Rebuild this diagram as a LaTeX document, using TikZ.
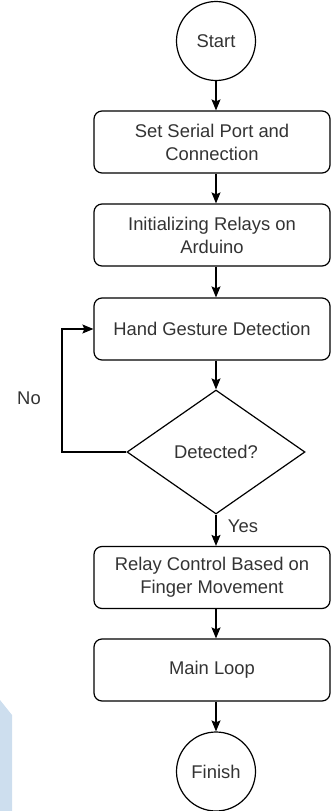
\documentclass[tikz,border=0pt]{standalone}
\usepackage{fontspec}
\setmainfont{Liberation Sans}
\usetikzlibrary{shapes.geometric,arrows.meta}
\definecolor{txt}{HTML}{333333}
\definecolor{wm}{RGB}{205,222,238}
\tikzset{
  every node/.style={font=\fontsize{18.4}{23}\selectfont, text=txt},
  procbox/.style={draw=black, line width=1.2pt, rounded corners=8pt, minimum width=236pt, minimum height=62pt, align=center, inner sep=0pt},
  term/.style={draw=black, line width=1.2pt, circle, minimum size=79pt, inner sep=0pt},
  decis/.style={draw=black, line width=1.2pt, diamond, minimum width=178pt, minimum height=124pt, inner sep=0pt},
  flow/.style={draw=black, line width=1.2pt, -{Stealth[length=11pt,width=9pt,inset=2pt]}},
  lbl/.style={inner sep=0pt}
}
\begin{document}
\begin{tikzpicture}[x=1pt,y=-1pt]
\useasboundingbox (0,0) rectangle (331,811);
\fill[wm] (0,700) -- (12,715) -- (12,811) -- (0,811) -- cycle;
\node[term] (start) at (216,41) {Start};
\node[procbox] (b1) at (212,142) {Set Serial Port and\\Connection};
\node[procbox] (b2) at (212,235) {Initializing Relays on\\Arduino};
\node[procbox] (b3) at (212,329) {Hand Gesture Detection};
\node[decis] (dec) at (216,452) {Detected?};
\node[procbox] (b4) at (212,577.5) {Relay Control Based on\\Finger Movement};
\node[procbox] (b5) at (212,670) {Main Loop};
\node[term] (fin) at (216,771.5) {Finish};
\node[lbl] (no) at (29,398) {No};
\node[lbl] (yes) at (243,526) {Yes};
\coordinate (lx) at (62,452);
\draw[flow] (start.south) -- (start.south |- b1.north);
\draw[flow] (start.south |- b1.south) -- (start.south |- b2.north);
\draw[flow] (start.south |- b2.south) -- (start.south |- b3.north);
\draw[flow] (start.south |- b3.south) -- (dec.north);
\draw[flow] (dec.south) -- (dec.south |- b4.north);
\draw[flow] (dec.south |- b4.south) -- (dec.south |- b5.north);
\draw[flow] (dec.south |- b5.south) -- (fin.north);
\draw[flow] (dec.west) -- (lx) |- (b3.west);
\end{tikzpicture}
\end{document}
